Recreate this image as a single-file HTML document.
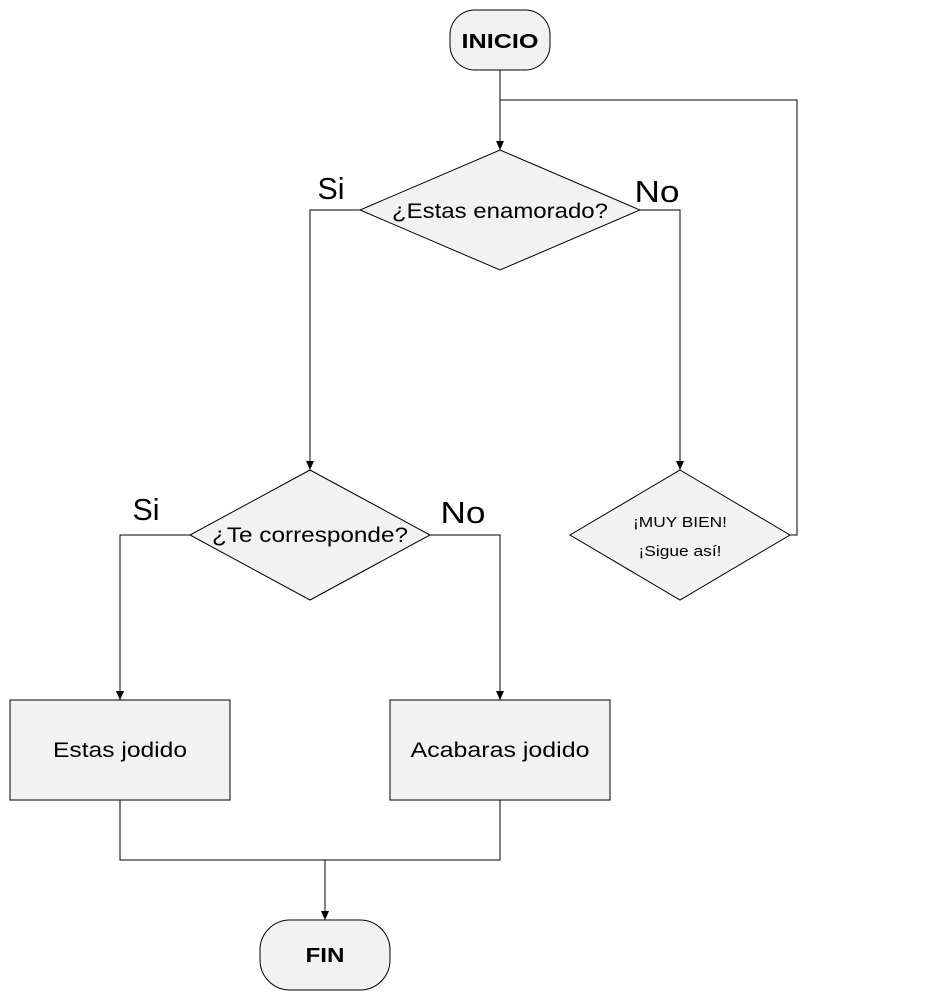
<!DOCTYPE html>
<html><head><meta charset="utf-8"><style>
html,body{margin:0;padding:0;background:#fff;}
svg{display:block;font-family:"Liberation Sans","DejaVu Sans",sans-serif;}
</style></head><body>
<svg width="939" height="1004" viewBox="0 0 939 1004" xmlns="http://www.w3.org/2000/svg">
<defs>
<marker id="d" markerWidth="10" markerHeight="10" refX="5" refY="9" orient="0" markerUnits="userSpaceOnUse">
<path d="M1,0 L9,0 L5,9 Z" fill="#000"/></marker></defs>
<g fill="none" stroke="#000" stroke-width="1">
<polyline points="500,70 500,150" marker-end="url(#d)"/>
<polyline points="790,535 797,535 797,100 500,100"/>
<polyline points="360,210 310,210 310,470" marker-end="url(#d)"/>
<polyline points="640,210 680,210 680,470" marker-end="url(#d)"/>
<polyline points="190,535 120,535 120,700" marker-end="url(#d)"/>
<polyline points="430,535 500,535 500,700" marker-end="url(#d)"/>
<polyline points="120,800 120,860 500,860 500,800"/>
<polyline points="325,860 325,920" marker-end="url(#d)"/>
</g>
<g fill="#f2f2f2" stroke="#000" stroke-width="1">
<rect x="450" y="10" width="100" height="60" rx="25"/>
<polygon points="500,150 640,210 500,270 360,210"/>
<polygon points="310,470 430,535 310,600 190,535"/>
<polygon points="680,470 790,535 680,600 570,535"/>
<rect x="10" y="700" width="220" height="100"/>
<rect x="390" y="700" width="220" height="100"/>
<rect x="260" y="920" width="130" height="70" rx="30"/>
</g>
<g fill="#000" text-anchor="middle">
<text x="500" y="48" font-size="20" font-weight="bold" textLength="77" lengthAdjust="spacingAndGlyphs">INICIO</text>
<text x="500" y="218" font-size="21" textLength="216" lengthAdjust="spacingAndGlyphs">¿Estas enamorado?</text>
<text x="310" y="542" font-size="21" textLength="196" lengthAdjust="spacingAndGlyphs">¿Te corresponde?</text>
<text x="680" y="527" font-size="15" textLength="94" lengthAdjust="spacingAndGlyphs">¡MUY BIEN!</text>
<text x="680" y="556" font-size="15" textLength="83" lengthAdjust="spacingAndGlyphs">¡Sigue así!</text>
<text x="120" y="757" font-size="21" textLength="134" lengthAdjust="spacingAndGlyphs">Estas jodido</text>
<text x="500" y="757" font-size="21" textLength="179" lengthAdjust="spacingAndGlyphs">Acabaras jodido</text>
<text x="325" y="962" font-size="20" font-weight="bold" textLength="39" lengthAdjust="spacingAndGlyphs">FIN</text>
<text x="331" y="199" font-size="31" textLength="27" lengthAdjust="spacingAndGlyphs">Si</text>
<text x="657" y="202" font-size="31" textLength="45" lengthAdjust="spacingAndGlyphs">No</text>
<text x="146" y="520" font-size="31" textLength="27" lengthAdjust="spacingAndGlyphs">Si</text>
<text x="463" y="523" font-size="31" textLength="45" lengthAdjust="spacingAndGlyphs">No</text>
</g>
</svg>
</body></html>
